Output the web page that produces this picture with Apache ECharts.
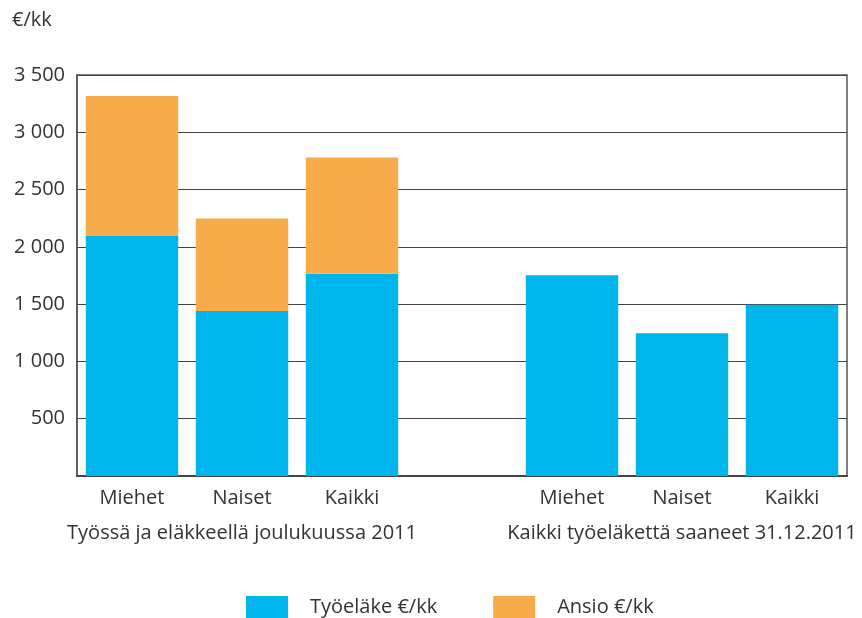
<!DOCTYPE html>
<html>
<head>
<meta charset="utf-8">
<script src="https://cdn.jsdelivr.net/npm/echarts@6/dist/echarts.min.js"></script>
<style>
  html, body { margin: 0; padding: 0; background: #fff; }
  #chart { width: 862px; height: 618px; }
</style>
</head>
<body>
<div id="chart"></div>
<script>
// categories (empty slot separates the two groups)
var categories = ["Miehet", "Naiset", "Kaikki", "", "Miehet", "Naiset", "Kaikki"];
var groupLabels = ["", "Työssä ja eläkkeellä joulukuussa 2011", "", "", "", "Kaikki työeläkettä saaneet 31.12.2011", ""];
var tyoelake = [2095, 1440, 1765, "-", 1753, 1246, 1494];
var ansio = [1222, 807, 1015, "-", "-", "-", "-"];
var yTicks = [0, 500, 1000, 1500, 2000, 2500, 3000, 3500];

var font = "Open Sans";
var fs = 20;
var chart = echarts.init(document.getElementById("chart"));

function fmt(v) {
  if (v === 0) return "";
  return String(v).replace(/\B(?=(\d{3})+(?!\d))/g, " ");
}

var option = {
  animation: false,
  textStyle: { fontFamily: font },
  title: {
    text: "€/kk",
    left: 7,
    top: 5,
    textStyle: { fontFamily: font, fontSize: fs, fontWeight: "normal", color: "#333" }
  },
  grid: { left: 77, right: 15, top: 75, bottom: 142, show: true, borderColor: "#555", borderWidth: 1.5 },
  legend: {
    left: 241,
    top: 591,
    itemWidth: 42,
    itemHeight: 23,
    itemGap: 56,
    icon: "rect",
    textStyle: { fontFamily: font, fontSize: fs, color: "#333", padding: [0, 0, 0, 17] },
    data: ["Työeläke €/kk", "Ansio €/kk"]
  },
  xAxis: [
    {
      type: "category",
      data: categories,
      axisLine: { lineStyle: { color: "#444", width: 2 } },
      axisTick: { show: false },
      axisLabel: { interval: 0, margin: 12, fontSize: fs, color: "#333", fontFamily: font }
    },
    {
      type: "category",
      position: "bottom",
      offset: 35,
      data: groupLabels,
      axisLine: { show: false },
      axisTick: { show: false },
      axisLabel: { interval: 0, margin: 12, fontSize: fs, color: "#333", fontFamily: font }
    }
  ],
  yAxis: {
    type: "value",
    min: yTicks[0],
    max: yTicks[yTicks.length - 1],
    interval: 500,
    axisLine: { show: true, lineStyle: { color: "#555", width: 1.5 } },
    axisTick: { show: false },
    splitLine: { lineStyle: { color: "#444", width: 1.2 } },
    axisLabel: { margin: 12, fontSize: fs, color: "#333", fontFamily: font, formatter: fmt }
  },
  series: [
    {
      name: "Työeläke €/kk",
      type: "bar",
      stack: "a",
      data: tyoelake,
      barCategoryGap: "16%",
      itemStyle: { color: "#00b5ec" }
    },
    {
      name: "Ansio €/kk",
      type: "bar",
      stack: "a",
      data: ansio,
      barCategoryGap: "16%",
      itemStyle: { color: "#f8ab4b" }
    }
  ]
};

chart.setOption(option);
</script>
</body>
</html>
